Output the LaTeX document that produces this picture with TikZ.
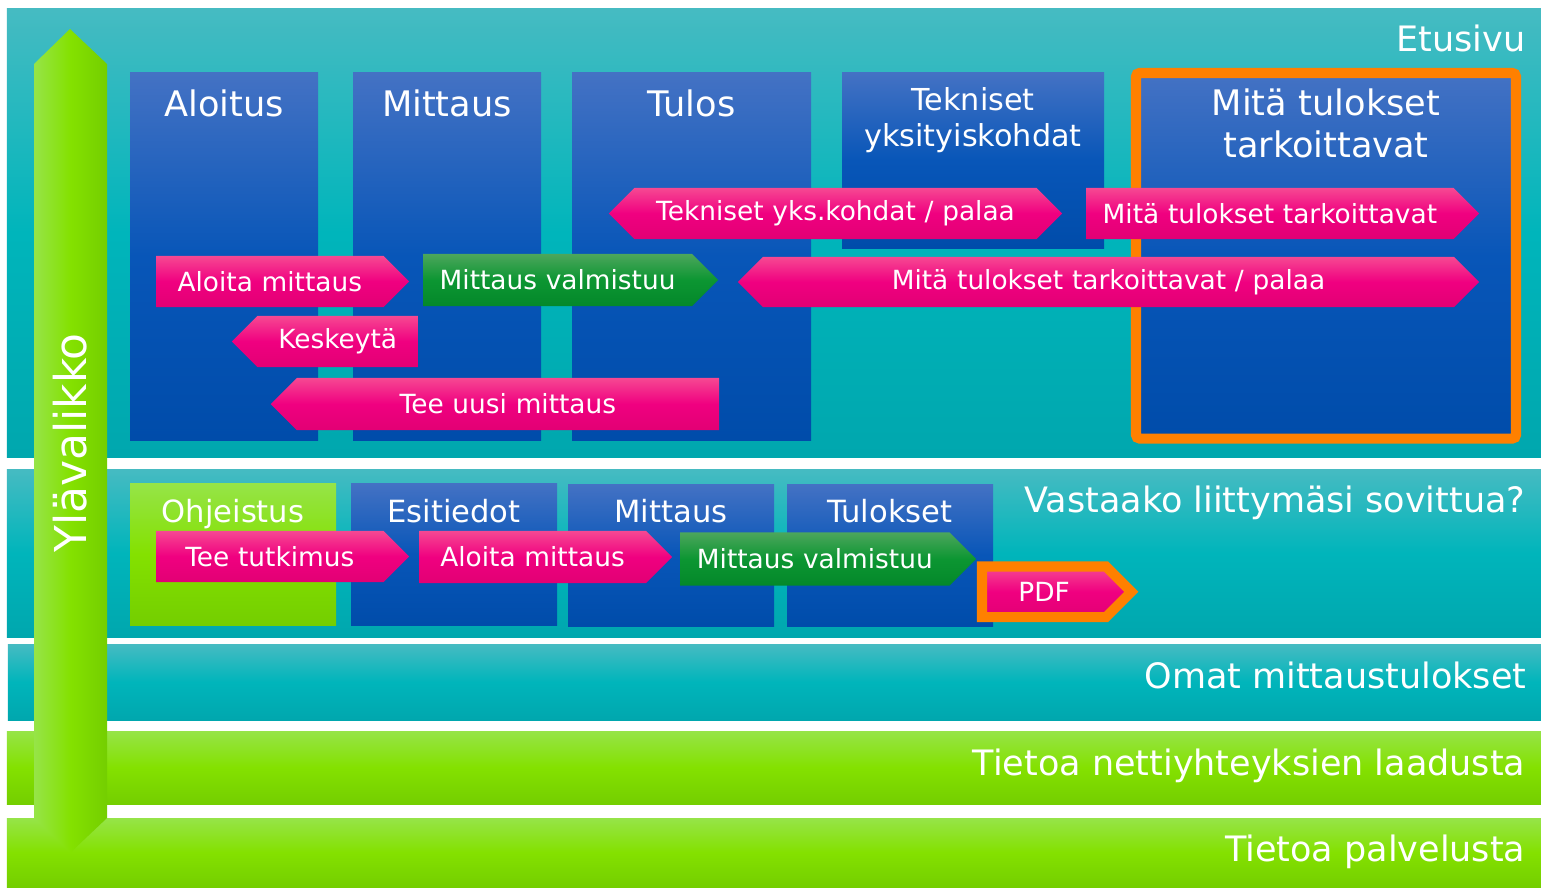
\documentclass[tikz,border=0pt]{standalone}
\usepackage{fontspec}
\setmainfont{DejaVu Sans}
\usepackage{tikz}
\usetikzlibrary{shapes.symbols, positioning}
\definecolor{MtTealTop}{RGB}{70,187,194}
\definecolor{MtTealMid}{RGB}{0,181,187}
\definecolor{MtTealBot}{RGB}{0,167,174}
\definecolor{MtLimeTop}{RGB}{150,228,72}
\definecolor{MtLimeMid}{RGB}{132,225,0}
\definecolor{MtLimeBot}{RGB}{116,206,0}
\definecolor{MtBlueTop}{RGB}{68,114,196}
\definecolor{MtBlueMid}{RGB}{8,86,184}
\definecolor{MtBlueBot}{RGB}{0,76,170}
\definecolor{MtPinkTop}{RGB}{246,72,146}
\definecolor{MtPinkMid}{RGB}{240,0,128}
\definecolor{MtPinkBot}{RGB}{226,0,116}
\definecolor{MtGreenTop}{RGB}{76,166,92}
\definecolor{MtGreenMid}{RGB}{12,150,50}
\definecolor{MtGreenBot}{RGB}{4,136,42}
\definecolor{MtOrange}{RGB}{255,128,0}

\begin{document}
\begin{tikzpicture}[x=0.01cm, y=-0.01cm,
          bandteal/.style={top color=MtTealTop, bottom color=MtTealBot,
                           middle color=MtTealMid},
          bandlime/.style={top color=MtLimeTop, bottom color=MtLimeBot,
                           middle color=MtLimeMid},
          bluebox/.style={top color=MtBlueTop, bottom color=MtBlueBot,
                          middle color=MtBlueMid},
          sig/.style={signal, signal pointer angle=90, signal to=east,
                      signal from=nowhere, inner xsep=0pt, inner ysep=0pt,
                      outer sep=0pt, align=center, text=white,
                      font=\fontsize{7.5}{9}\selectfont},
          pinksig/.style={sig, top color=MtPinkTop, bottom color=MtPinkBot,
                          middle color=MtPinkMid},
          greensig/.style={sig, top color=MtGreenTop, bottom color=MtGreenBot,
                           middle color=MtGreenMid},
          head/.style={anchor=base, inner sep=0pt, text=white,
                       font=\fontsize{10}{12}\selectfont},
          subhead/.style={head, font=\fontsize{8.7}{10.4}\selectfont},
          bandlabel/.style={anchor=base east, inner sep=0pt, text=white,
                            font=\fontsize{9.95}{12}\selectfont}
        ]
        \useasboundingbox (0,0) rectangle (1541,887);
        \fill[white] (0,0) rectangle (1541,887);

        % Bands
        \shade[bandteal] (7,8) rectangle (1541,457);
        \shade[bandteal] (7,469) rectangle (1541,637);
        \shade[bandteal] (8,644) rectangle (1541,720);
        \shade[bandlime] (7,731) rectangle (1541,804);
        \shade[bandlime] (7,818) rectangle (1541,887);

        \node[bandlabel] (etusivu) at (1526,51) {Etusivu};
        \node[bandlabel] (vastaako) at (1526,512) {Vastaako liittymäsi sovittua?};
        \node[bandlabel] (omat) at (1527,688) {Omat mittaustulokset};
        \node[bandlabel] (laatu) at (1526,775) {Tietoa nettiyhteyksien laadusta};
        \node[bandlabel] (palvelu) at (1526,861) {Tietoa palvelusta};

        % Top menu arrow
        \shade[left color=MtLimeTop, right color=MtLimeBot, middle color=MtLimeMid]
              (34,64) -- (70,29) -- (107,64) -- (107,818) -- (70,853)
              -- (34,818) -- cycle;
        \node[anchor=base, inner sep=0pt, text=white, rotate=90,
              font=\fontsize{12.5}{15}\selectfont] (ylavalikko) at (87,443)
              {Ylävalikko};

        % Front page columns
        \shade[bluebox] (130,72) rectangle (318,440);
        \shade[bluebox] (353,72) rectangle (541,440);
        \shade[bluebox] (572,72) rectangle (811,440);
        \shade[bluebox] (842,72) rectangle (1104,248);
        \shadedraw[bluebox, draw=MtOrange, line width=2.85pt, rounded corners=1pt]
              (1136,73) rectangle (1516,438.5);

        \node[head] (aloitus) at (224,116) {Aloitus};
        \node[head] (mittaus) at (447,116) {Mittaus};
        \node[head] (tulos) at (691.5,116) {Tulos};
        \node[head, text width=2.6cm, align=center,
              font=\fontsize{8.6}{10.25}\selectfont] (tekniset) at (973,110)
              {Tekniset\\yksityiskohdat};
        \node[head, text width=3.6cm, align=center,
              font=\fontsize{10}{11.95}\selectfont] (merkitys) at (1326,115)
              {Mitä tulokset\\tarkoittavat};

        % Front page transitions
        \node[pinksig, anchor=west, text width=2.275cm, minimum height=0.51cm]
              (aloita) at (156,281.5) {Aloita mittaus};
        \node[greensig, anchor=west, text width=2.69cm, minimum height=0.52cm]
              (valmis) at (423,280) {Mittaus valmistuu};
        \node[pinksig, signal to=west, anchor=east, text width=1.605cm,
              minimum height=0.51cm] (keskeyta) at (418,341.5) {Keskeytä};
        \node[pinksig, signal to=west, anchor=east, text width=4.22cm,
              minimum height=0.52cm] (uusi) at (719,404) {Tee uusi mittaus};
        \node[pinksig, signal to=east and west, text width=4.02cm,
              minimum height=0.51cm] (teknpalaa) at (835.5,213.5)
              {Tekniset yks.kohdat / palaa};
        \node[pinksig, anchor=west, text width=3.675cm, minimum height=0.51cm]
              (merkitysA) at (1086,213.5) {Mitä tulokset tarkoittavat};
        \node[pinksig, signal to=east and west, text width=6.91cm,
              minimum height=0.50cm] (merkityspalaa) at (1108.5,282)
              {Mitä tulokset tarkoittavat / palaa};

        % Survey columns
        \shade[bandlime] (130,483) rectangle (336,625);
        \shade[bluebox] (351,483) rectangle (557,625);
        \shade[bluebox] (568,484) rectangle (774,626);
        \shade[bluebox] (787,484) rectangle (993,626);

        \node[subhead] (ohjeistus) at (233,522) {Ohjeistus};
        \node[subhead] (esitiedot) at (454,522) {Esitiedot};
        \node[subhead] (mittaus2) at (671,522) {Mittaus};
        \node[subhead] (tulokset) at (890,522) {Tulokset};

        % Survey transitions
        \node[pinksig, anchor=west, text width=2.275cm, minimum height=0.51cm]
              (tutkimus) at (156,556.5) {Tee tutkimus};
        \node[pinksig, anchor=west, text width=2.27cm, minimum height=0.52cm]
              (aloita2) at (419,557) {Aloita mittaus};
        \node[greensig, anchor=west, text width=2.695cm, minimum height=0.53cm]
              (valmis2) at (680,559) {Mittaus valmistuu};
        \node[pinksig, anchor=west, draw=MtOrange, line width=2.85pt,
              text width=1.24cm, minimum height=0.505cm] (pdf) at (982,591.75)
              {PDF};
      \end{tikzpicture}
\end{document}
